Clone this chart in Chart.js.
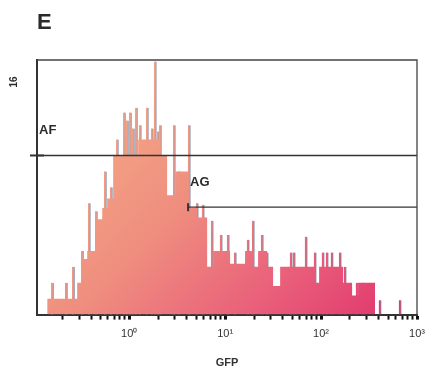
<!DOCTYPE html>
<html>
<head>
<meta charset="utf-8">
<script src="https://cdn.jsdelivr.net/npm/chart.js@4"></script>
<style>
  html, body { margin: 0; padding: 0; background: #fff; }
  #wrap { width: 431px; height: 375px; }
</style>
</head>
<body>
<div id="wrap"><canvas id="myChart" width="431" height="375"></canvas></div>
<script>
// 256-channel log axis, 64 channels per decade (channel 0 = 10^-1)
var decadeTicks = [64, 128, 192, 256];
var tickLabels = ['10\u2070', '10\u00b9', '10\u00b2', '10\u00b3'];

// histogram envelope: left edge channel of each step and its count
var binStart = [9.3, 29.3, 32, 36, 41.3, 46, 49.3, 53.3, 70, 84.7, 89.3, 94.7, 103.3, 109.3, 116, 120,
  131.3, 141.3, 146, 150, 156, 160, 164.7, 188, 190.7, 206.7, 212.7, 216.7, 228];
var binCount = [1, 2, 3.5, 4, 6, 6.7, 7.3, 10, 11, 10, 7.5, 9, 6.7, 6.1, 3, 4,
  3.2, 4, 3, 4, 3, 1.8, 3, 2, 3, 2, 1.2, 2, 0];

// single-channel spikes above the envelope
var spikeAt = [12.7, 22, 26.7, 32.7, 37.3, 42, 48, 52, 56, 60.7, 62.7, 64.7, 66.7, 68.7, 71.3,
  76, 79.3, 81.3, 83.3, 84.7, 94, 97.3, 104, 109.3, 113.3, 119.3, 125.3, 130, 134.7, 143.3,
  146.7, 152.7, 156, 172, 174, 182, 188, 193.3, 196, 199.3, 204.7, 208, 216, 220, 231.3, 244.7];
var spikeCount = [2, 2, 3, 4, 7, 6.5, 9, 8, 11, 12.7, 12.2, 12.7, 11.7, 13, 11.9,
  13, 11.7, 15.9, 11.5, 11.9, 11.9, 9, 11.9, 7, 6.9, 5.9, 5, 5, 3.9, 4.7,
  5.9, 5, 3.9, 3.9, 3.9, 4.9, 3.9, 3.9, 3.9, 3.9, 3.9, 3, 2, 2, 0.9, 0.9];

// gates
var gateNames = ['AF', 'AG'];
var gateStart = [2.5, 103.3];
var gateLevel = [10, 6.75];

var xMin = 2.5, xMax = 256, yMax = 16;

function histFill(c) {
  var area = c.chart.chartArea;
  if (!area) return '#ef8f80';
  var g = c.chart.ctx.createLinearGradient(area.left + 80, area.top, area.right - 40, area.bottom);
  g.addColorStop(0, '#f6ab86');
  g.addColorStop(0.4, '#ef8e7f');
  g.addColorStop(0.75, '#e95f7a');
  g.addColorStop(1, '#e23c70');
  return g;
}

function pts(xs, ys) {
  return xs.map(function (x, i) { return {x: x, y: ys[i]}; });
}

var datasets = [{
  type: 'line',
  data: pts(binStart, binCount),
  stepped: 'before',
  fill: 'origin',
  backgroundColor: histFill,
  borderColor: 'transparent',
  borderWidth: 0,
  pointRadius: 0,
  order: 2
}, {
  type: 'bar',
  data: pts(spikeAt, spikeCount),
  backgroundColor: histFill,
  borderColor: 'rgba(100,110,140,0.8)',
  borderWidth: {left: 0, right: 1, top: 0, bottom: 0},
  borderSkipped: false,
  barThickness: 2.5,
  grouped: false,
  order: 3
}];

gateNames.forEach(function (name, i) {
  datasets.push({
    type: 'line',
    label: name,
    data: [{x: gateStart[i], y: gateLevel[i]}, {x: xMax, y: gateLevel[i]}],
    borderColor: '#333',
    borderWidth: 1.3,
    pointStyle: 'line',
    pointBorderColor: '#333',
    pointBorderWidth: 2,
    pointRadius: [i === 0 ? 7 : 4, 0],
    rotation: i === 0 ? 0 : 90,
    clip: false,
    order: 1
  });
});

var textPlugin = {
  id: 'texts',
  afterDraw: function (chart) {
    var c = chart.ctx, a = chart.chartArea;
    var xs = chart.scales.x, ys = chart.scales.y;
    c.save();
    // frame
    c.strokeStyle = '#444';
    c.lineWidth = 1.3;
    c.beginPath();
    c.moveTo(a.left, a.top);
    c.lineTo(a.right, a.top);
    c.lineTo(a.right, a.bottom);
    c.stroke();
    c.fillStyle = '#2a2a2a';
    // panel letter
    c.font = 'bold 22px "Liberation Sans", Arial, sans-serif';
    c.textBaseline = 'alphabetic';
    c.textAlign = 'left';
    c.fillText('E', 37, 29);
    // y max label
    c.save();
    c.translate(14, 82);
    c.rotate(-Math.PI / 2);
    c.font = 'bold 10px "Liberation Sans", Arial, sans-serif';
    c.textAlign = 'center';
    c.textBaseline = 'middle';
    c.fillText(String(yMax), 0, 0);
    c.restore();
    // gate names
    c.font = 'bold 13px "Liberation Sans", Arial, sans-serif';
    c.textAlign = 'left';
    c.textBaseline = 'middle';
    gateNames.forEach(function (name, i) {
      c.fillText(name, xs.getPixelForValue(gateStart[i]) + 2, ys.getPixelForValue(gateLevel[i]) - 25);
    });
    c.restore();
  }
};

var ctx = document.getElementById('myChart').getContext('2d');
var myChart = new Chart(ctx, {
  type: 'line',
  data: {datasets: datasets},
  options: {
    responsive: false,
    animation: false,
    layout: {padding: {left: 29, right: 14, top: 60, bottom: 5}},
    plugins: {legend: {display: false}, tooltip: {enabled: false}},
    scales: {
      x: {
        type: 'linear',
        offset: false,
        min: xMin,
        max: xMax,
        afterBuildTicks: function (scale) {
          var t = [];
          for (var d = 0; d < 4; d++) {
            for (var k = 2; k <= 9; k++) t.push({value: d * 64 + 64 * Math.log10(k)});
            t.push({value: decadeTicks[d], major: true});
          }
          scale.ticks = t;
        },
        afterFit: function (scale) {
          scale.paddingRight = 0;
          scale.paddingLeft = 0;
        },
        ticks: {
          autoSkip: false,
          maxRotation: 0,
          padding: 8,
          color: '#333',
          font: {family: '"Liberation Sans", Arial, sans-serif', size: 11},
          callback: function (v) {
            var i = decadeTicks.indexOf(v);
            return i >= 0 ? tickLabels[i] : '';
          }
        },
        grid: {
          offset: false,
          drawOnChartArea: false,
          tickLength: 5,
          tickColor: '#111',
          tickWidth: function (c) { return c.tick && c.tick.major ? 3 : 2; }
        },
        border: {color: '#333', width: 2},
        title: {
          display: true,
          text: 'GFP',
          color: '#333',
          font: {family: '"Liberation Sans", Arial, sans-serif', size: 11, weight: 'bold'},
          padding: {top: 8, bottom: 0}
        }
      },
      y: {
        min: 0,
        max: yMax,
        ticks: {display: false},
        grid: {display: false},
        border: {color: '#333', width: 2}
      }
    }
  },
  plugins: [textPlugin]
});
</script>
</body>
</html>
